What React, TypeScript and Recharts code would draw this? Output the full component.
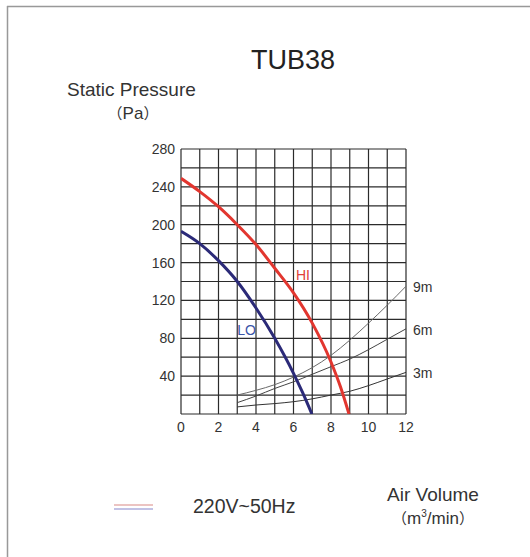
import React from "react";
import {
  LineChart,
  Line,
  XAxis,
  YAxis,
  CartesianGrid,
  ReferenceDot,
} from "recharts";

// fan curves (air volume m3/min -> static pressure Pa)
const hiVolume = [0, 1, 2, 3, 4, 5, 6, 7, 8, 8.5, 8.96];
const hiPressure = [249, 235, 219, 200, 179, 154, 128, 96, 55, 29, 0];

const loVolume = [0, 1, 2, 3, 4, 5, 6, 6.5, 6.98];
const loPressure = [193, 180, 162, 140, 112, 80, 43, 22, 0];

// duct resistance curves
const ductVolume = [3, 4, 5, 6, 7, 8, 9, 10, 11, 12];
const duct9m = [20, 25, 31, 39, 49, 62, 78, 96, 115, 135];
const duct6m = [12, 19, 27, 34, 42, 50, 58, 68, 79, 90];
const duct3m = [7.5, 9.5, 11, 13, 16, 20, 24, 30, 37, 44];

const xTicks = [0, 1, 2, 3, 4, 5, 6, 7, 8, 9, 10, 11, 12];
const yTicks = [0, 20, 40, 60, 80, 100, 120, 140, 160, 180, 200, 220, 240, 260, 280];

const toPoints = (xs: number[], ys: number[]) =>
  xs.map((x, i) => ({ x, y: ys[i] }));

const FONT = "'Liberation Sans', Arial, 'Noto Sans CJK SC', sans-serif";
const CJK = "'Noto Sans CJK SC', sans-serif";

const endLabel = (text: string, count: number) => (props: any) => {
  const { x, y, index } = props;
  if (index !== count - 1) return null;
  return (
    <text
      x={x + 7}
      y={y}
      dy={2}
      fontSize={14}
      fill="#333"
      fontFamily={FONT}
      dominantBaseline="middle"
    >
      {text}
    </text>
  );
};

const App: React.FC = () => {
  return (
    <div
      style={{
        position: "absolute",
        left: 0,
        top: 0,
        width: 530,
        height: 557,
        background: "#fff",
        fontFamily: FONT,
      }}
    >
      <div style={{ position: "absolute", left: 0, top: 0 }}>
        <LineChart
          width={530}
          height={557}
          margin={{ top: 149, right: 124, left: 141, bottom: 113 }}
        >
          <CartesianGrid
            stroke="#2b2b2b"
            strokeWidth={1.2}
            horizontalValues={yTicks}
            verticalValues={xTicks}
          />
          <XAxis
            type="number"
            dataKey="x"
            domain={[0, 12]}
            ticks={xTicks}
            interval={0}
            height={30}
            axisLine={false}
            tickLine={false}
            tickFormatter={(v: number) => (v % 2 === 0 ? String(v) : "")}
            tick={{ fontSize: 14, fill: "#333", fontFamily: FONT }}
            allowDataOverflow
          />
          <YAxis
            type="number"
            dataKey="y"
            domain={[0, 280]}
            ticks={yTicks}
            interval={0}
            width={40}
            axisLine={false}
            tickLine={false}
            tickMargin={0}
            tickFormatter={(v: number) =>
              v > 0 && v % 40 === 0 ? String(v) : ""
            }
            tick={{ fontSize: 14, fill: "#333", fontFamily: FONT }}
            allowDataOverflow
          />
          <Line
            data={toPoints(ductVolume, duct9m)}
            dataKey="y"
            type="monotone"
            stroke="#6a6a6a"
            strokeWidth={1}
            dot={false}
            label={endLabel("9m", ductVolume.length)}
            isAnimationActive={false}
          />
          <Line
            data={toPoints(ductVolume, duct6m)}
            dataKey="y"
            type="monotone"
            stroke="#444"
            strokeWidth={1}
            dot={false}
            label={endLabel("6m", ductVolume.length)}
            isAnimationActive={false}
          />
          <Line
            data={toPoints(ductVolume, duct3m)}
            dataKey="y"
            type="monotone"
            stroke="#333"
            strokeWidth={1}
            dot={false}
            label={endLabel("3m", ductVolume.length)}
            isAnimationActive={false}
          />
          <Line
            data={toPoints(loVolume, loPressure)}
            dataKey="y"
            type="monotone"
            stroke="#2b2a78"
            strokeWidth={3}
            dot={false}
            isAnimationActive={false}
          />
          <Line
            data={toPoints(hiVolume, hiPressure)}
            dataKey="y"
            type="monotone"
            stroke="#e2362f"
            strokeWidth={3}
            dot={false}
            isAnimationActive={false}
          />
          <ReferenceDot
            x={6.5}
            y={147}
            r={0}
            fill="none"
            stroke="none"
            label={{ value: "HI", position: "center", fill: "#e0413a", fontSize: 14, fontFamily: FONT }}
          />
          <ReferenceDot
            x={3.5}
            y={89}
            r={0}
            fill="none"
            stroke="none"
            label={{ value: "LO", position: "center", fill: "#3a55a8", fontSize: 14, fontFamily: FONT }}
          />
        </LineChart>
      </div>
      <svg
        width={530}
        height={557}
        style={{ position: "absolute", left: 0, top: 0, pointerEvents: "none" }}
        fontFamily={FONT}
      >
        <line x1={7} y1={6.5} x2={530} y2={6.5} stroke="#999" strokeWidth={1.5} />
        <line x1={7.5} y1={6} x2={7.5} y2={557} stroke="#999" strokeWidth={1.5} />
        <text x={293} y={69} textAnchor="middle" fontSize={27} fill="#222">
          TUB38
        </text>
        <text x={67} y={96} fontSize={19} fill="#333">
          Static Pressure
        </text>
        <text x={133} y={119} textAnchor="middle" fontSize={17} fill="#333">
          <tspan fontFamily={CJK} fontSize={15}>（</tspan>
          <tspan>Pa</tspan>
          <tspan fontFamily={CJK} fontSize={15}>）</tspan>
        </text>
        <line x1={114} y1={505} x2={153} y2={505} stroke="#d98a85" strokeWidth={1.2} />
        <line x1={114} y1={509} x2={153} y2={509} stroke="#8585cc" strokeWidth={1.2} />
        <text x={193} y={513} fontSize={19.5} fill="#333">
          220V~50Hz
        </text>
        <text x={433} y={501} textAnchor="middle" fontSize={19} fill="#333">
          Air Volume
        </text>
        <text x={433} y={524} textAnchor="middle" fontSize={17} fill="#333">
          <tspan fontFamily={CJK} fontSize={15}>（</tspan>
          <tspan>m</tspan>
          <tspan fontSize={10} dy={-7}>3</tspan>
          <tspan dy={7}>/min</tspan>
          <tspan fontFamily={CJK} fontSize={15}>）</tspan>
        </text>
      </svg>
    </div>
  );
};

export default App;
